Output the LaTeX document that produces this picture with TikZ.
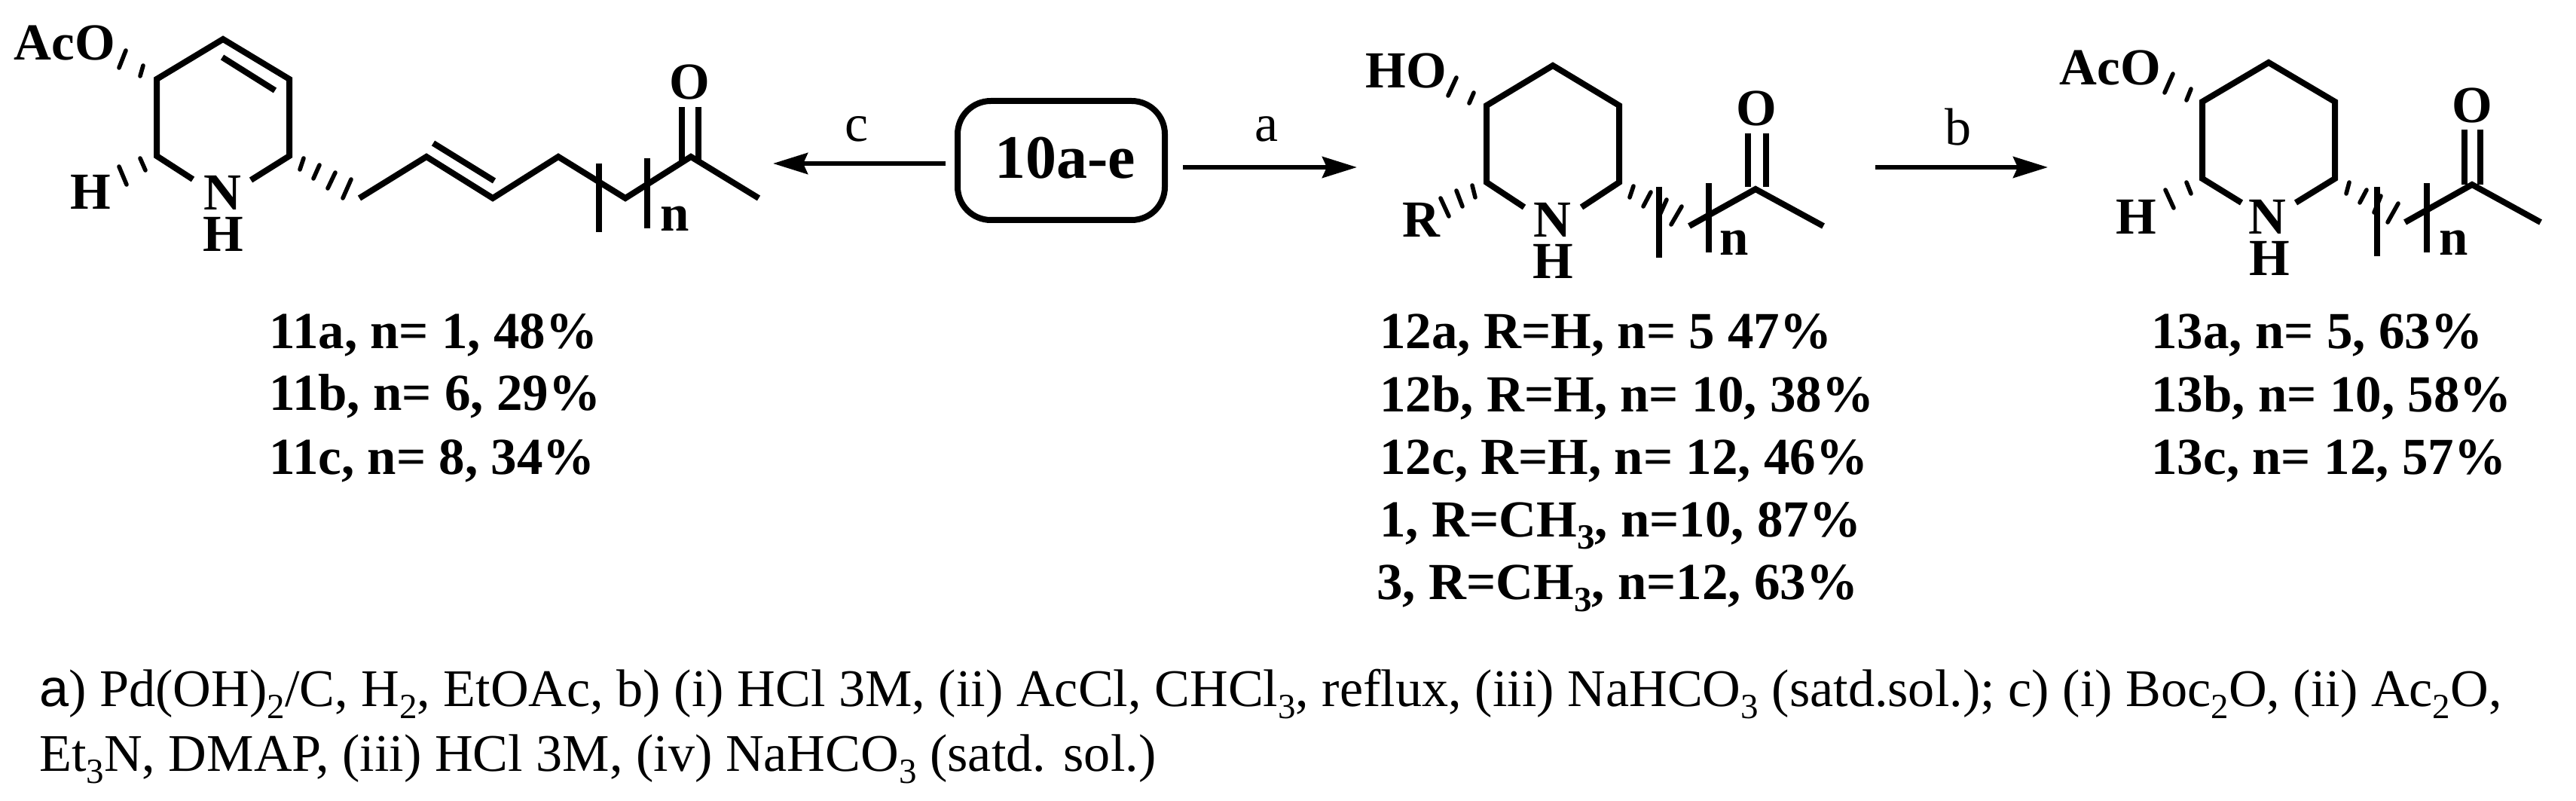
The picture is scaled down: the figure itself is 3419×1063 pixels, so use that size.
\documentclass[tikz,border=0pt]{standalone}
\usepackage{fontspec}
\setmainfont{Liberation Serif}
\setsansfont{Liberation Sans}
\usetikzlibrary{arrows.meta}
\newcommand{\dn}[1]{\raisebox{-8pt}{\fontsize{23.5}{23.5}\selectfont #1}}
\tikzset{
  bond/.style={line width=4pt,line cap=butt,line join=miter},
  hashb/.style={line width=2.8pt,line cap=round},
  brk/.style={line width=3.6pt},
  rxn/.style={line width=3pt,-{Stealth[length=23pt,width=14pt,inset=3pt]}},
  atom/.style={inner sep=0pt,anchor=base,font=\fontsize{34.5}{40}\selectfont\bfseries},
  captxt/.style={inner sep=0pt,anchor=base west,font=\fontsize{34.5}{40}\selectfont\bfseries},
  foot/.style={inner sep=0pt,anchor=base west,font=\fontsize{35.1}{40}\selectfont},
  cond/.style={inner sep=0pt,anchor=base,font=\fontsize{35}{40}\selectfont},
}
\begin{document}
\begin{tikzpicture}[x=0.5pt,y=-0.5pt]
\useasboundingbox (0,0) rectangle (3419,1063);
\fill[white] (0,0) rectangle (3419,1063);
% ---------- molecule 11
\node[atom] (aco1) at (86,80) {AcO};
\node[atom] (hl1) at (120,278) {H};
\node[atom] (n1) at (295,279) {N};
\node[atom] (nh1) at (296,334) {H};
\node[atom] (o1) at (915,132) {O};
\node[atom] (sub1) at (896,307) {n};
\coordinate (a1) at (296,52); \coordinate (a2) at (384,105); \coordinate (a3) at (384,207);
\coordinate (a4) at (333,239); \coordinate (a5) at (256,238); \coordinate (a6) at (208,207); \coordinate (a7) at (208,105);
\draw[bond] (a4) -- (a3) -- (a2) -- (a1) -- (a7) -- (a6) -- (a5);
\coordinate (a8) at (295,76); \coordinate (a9) at (365,120);
\draw[bond] (a8) -- (a9);
\draw[hashb] (190,87) -- (186,101);
\draw[hashb] (167,67) -- (158,90);
\draw[hashb] (186,210) -- (193,226);
\draw[hashb] (158,221) -- (168,245);
\draw[hashb] (403,210) -- (398,225);
\draw[hashb] (424,219) -- (416,237);
\draw[hashb] (445,229) -- (435,250);
\draw[hashb] (466,238) -- (455,263);
\coordinate (c1) at (477,263); \coordinate (c2) at (566,208); \coordinate (c3) at (654,263); \coordinate (c4) at (741,208);
\coordinate (c5) at (830,263); \coordinate (c6) at (917,208); \coordinate (c7) at (1007,263);
\draw[bond] (c1) -- (c2) -- (c3) -- (c4) -- (c5) -- (c6) -- (c7);
\coordinate (c8) at (575,190); \coordinate (c9) at (656,240);
\draw[bond] (c8) -- (c9);
\draw[bond,line width=3.6pt] (905,142) -- (905,213);
\draw[bond,line width=3.6pt] (927,142) -- (927,213);
\draw[brk] (795,217) -- (795,308);
\draw[brk] (859,210) -- (859,303);
% ---------- reactant box and arrows
\node[draw,line width=4pt,rounded corners=22pt,minimum width=137.5pt,minimum height=79pt,inner sep=0pt,font=\fontsize{41}{41}\selectfont\bfseries] (box) at (1408.5,213) {\hspace*{5pt}\raisebox{4pt}{10a-e}};
\coordinate (cs) at (1255,217); \coordinate (ce) at (1026,217);
\draw[rxn] (cs) -- (ce);
\node[cond] (lc) at (1137,188) {c};
\coordinate (as) at (1570,222); \coordinate (ae) at (1801,222);
\draw[rxn] (as) -- (ae);
\node[cond] (la) at (1681,188) {a};
\coordinate (bs) at (2489,222); \coordinate (be) at (2718,222);
\draw[rxn] (bs) -- (be);
\node[cond] (lb) at (2599,193) {b};
% ---------- molecule 12
\node[atom] (ho2) at (1866,117) {HO};
\node[atom] (r2) at (1886,315) {R};
\node[atom] (n2) at (2060,315) {N};
\node[atom] (nh2) at (2061,370) {H};
\node[atom] (o2) at (2331,167) {O};
\node[atom] (sub2) at (2302,339) {n};
\coordinate (b1) at (2061,87); \coordinate (b2) at (2149,140); \coordinate (b3) at (2149,242);
\coordinate (b4) at (2099,275); \coordinate (b5) at (2023,275); \coordinate (b6) at (1973,242); \coordinate (b7) at (1973,140);
\draw[bond] (b4) -- (b3) -- (b2) -- (b1) -- (b7) -- (b6) -- (b5);
\draw[hashb] (1956,123) -- (1950,137);
\draw[hashb] (1933,103) -- (1922,127);
\draw[hashb] (1954,246) -- (1958,262);
\draw[hashb] (1933,253) -- (1941,274);
\draw[hashb] (1912,263) -- (1923,287);
\draw[hashb] (2168,247) -- (2163,262);
\draw[hashb] (2191,255) -- (2181,274);
\draw[hashb] (2212,265) -- (2203,285);
\draw[hashb] (2232,274) -- (2218,298);
\coordinate (d1) at (2242,300); \coordinate (d2) at (2330,251); \coordinate (d3) at (2420,300);
\draw[bond] (d1) -- (d2) -- (d3);
\draw[bond,line width=3.6pt] (2320,177) -- (2320,248);
\draw[bond,line width=3.6pt] (2344,177) -- (2344,248);
\draw[brk] (2202,248) -- (2202,342);
\draw[brk] (2268,243) -- (2268,335);
% ---------- molecule 13
\node[atom] (aco3) at (2801,113) {AcO};
\node[atom] (hl3) at (2835,311) {H};
\node[atom] (n3) at (3009,311) {N};
\node[atom] (nh3) at (3012,366) {H};
\node[atom] (o3) at (3281,163) {O};
\node[atom] (sub3) at (3257,339) {n};
\coordinate (e1) at (3011,83); \coordinate (e2) at (3099,135); \coordinate (e3) at (3099,237);
\coordinate (e4) at (3047,269); \coordinate (e5) at (2975,269); \coordinate (e6) at (2923,237); \coordinate (e7) at (2923,135);
\draw[bond] (e4) -- (e3) -- (e2) -- (e1) -- (e7) -- (e6) -- (e5);
\draw[hashb] (2908,118) -- (2902,133);
\draw[hashb] (2884,98) -- (2873,123);
\draw[hashb] (2902,242) -- (2908,257);
\draw[hashb] (2874,252) -- (2885,276);
\draw[hashb] (3118,242) -- (3114,257);
\draw[hashb] (3141,252) -- (3132,269);
\draw[hashb] (3160,260) -- (3151,282);
\draw[hashb] (3183,270) -- (3169,295);
\coordinate (f1) at (3192,295); \coordinate (f2) at (3281,245); \coordinate (f3) at (3372,295);
\draw[bond] (f1) -- (f2) -- (f3);
\draw[bond,line width=3.6pt] (3271,172) -- (3271,245);
\draw[bond,line width=3.6pt] (3292,172) -- (3292,245);
\draw[brk] (3155,248) -- (3155,340);
\draw[brk] (3221,243) -- (3221,335);
% ---------- captions
\node[captxt] (t11a) at (357,463) {11a, n= 1, 48\%};
\node[captxt] (t11b) at (357,545) {11b, n= 6, 29\%};
\node[captxt] (t11c) at (357,629) {11c, n= 8, 34\%};
\node[captxt] (t12a) at (1831,463) {12a, R=H, n= 5 47\%};
\node[captxt] (t12b) at (1831,546) {12b, R=H, n= 10, 38\%};
\node[captxt] (t12c) at (1831,629) {12c, R=H, n= 12, 46\%};
\node[captxt] (t1) at (1831,712) {1, R=CH\dn{3}, n=10, 87\%};
\node[captxt] (t3) at (1827,795) {3, R=CH\dn{3}, n=12, 63\%};
\node[captxt] (t13a) at (2855,463) {13a, n= 5, 63\%};
\node[captxt] (t13b) at (2855,546) {13b, n= 10, 58\%};
\node[captxt] (t13c) at (2855,629) {13c, n= 12, 57\%};
% ---------- conditions
\node[foot] (f1l) at (52,937) {{\sffamily a}) Pd(OH)\dn{2}/C, H\dn{2}, EtOAc, b) (i) HCl 3M, (ii) AcCl, CHCl\dn{3}, ref{}lux, (iii) NaHCO\dn{3} (satd.sol.); c) (i) Boc\dn{2}O, (ii) Ac\dn{2}O,};
\node[foot] (f2l) at (52,1023) {Et\dn{3}N, DMAP, (iii) HCl 3M, (iv) NaHCO\dn{3} (satd. sol.)};
\end{tikzpicture}
\end{document}
